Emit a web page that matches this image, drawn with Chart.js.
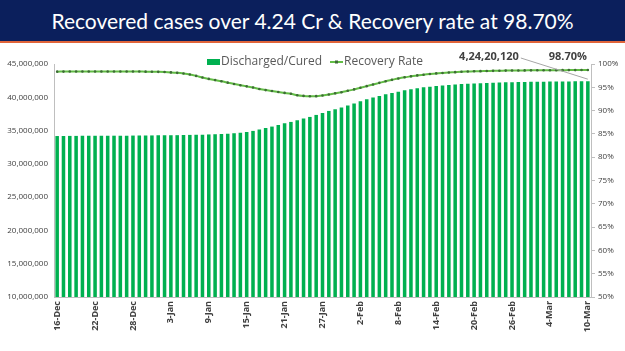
<!DOCTYPE html>
<html>
<head>
<meta charset="utf-8">
<script src="https://cdn.jsdelivr.net/npm/chart.js@4/dist/chart.umd.min.js"></script>
<style>
  html, body { margin: 0; padding: 0; background: #ffffff; }
  body { width: 625px; height: 351px; position: relative; overflow: hidden; }
  .banner {
    position: absolute; left: 0; top: 0; width: 625px; height: 41px;
    background: #0b1f5c; border-bottom: 2px solid #e0643a;
    color: #ffffff; font-family: Lato, "Open Sans", sans-serif; font-size: 21px;
    line-height: 41px; text-align: center;
  }
  .chart-box { position: absolute; left: 0; top: 44px; width: 625px; height: 307px; }
</style>
</head>
<body>
<div class="banner">Recovered cases over 4.24 Cr &amp; Recovery rate at 98.70%</div>
<div class="chart-box"><canvas id="recoveryChart"></canvas></div>
<script>
// ngày: 16-Dec .. 10-Mar (85 ngày)
const months = ["Dec", "Jan", "Feb", "Mar"];
const monthDays = [16, 31, 28, 10];
const monthStart = [16, 1, 1, 1];

// số ca khỏi bệnh cộng dồn (triệu)
const dischargedMillions = [
  34.18, 34.19, 34.20, 34.20, 34.21, 34.21, 34.22, 34.22, 34.23, 34.23,
  34.24, 34.24, 34.25, 34.25, 34.26, 34.27, 34.28, 34.29, 34.30, 34.31,
  34.33, 34.35, 34.37, 34.39, 34.42, 34.45, 34.49, 34.54, 34.60, 34.68,
  34.78, 34.95, 35.15, 35.40, 35.60, 35.85, 36.10, 36.30, 36.55, 36.80,
  37.05, 37.35, 37.65, 37.95, 38.20, 38.45, 38.75, 39.05, 39.40, 39.70,
  39.95, 40.20, 40.45, 40.65, 40.85, 41.05, 41.20, 41.35, 41.50, 41.60,
  41.70, 41.78, 41.85, 41.92, 41.98, 42.03, 42.07, 42.11, 42.15, 42.18,
  42.21, 42.24, 42.26, 42.28, 42.30, 42.32, 42.33, 42.35, 42.36, 42.37,
  42.38, 42.39, 42.40, 42.41, 42.42012
];

// tỉ lệ hồi phục (%)
const recoveryRate = [
  98.36, 98.37, 98.38, 98.38, 98.38, 98.39, 98.40, 98.40, 98.40, 98.40,
  98.40, 98.39, 98.38, 98.38, 98.36, 98.34, 98.32, 98.27, 98.20, 98.10,
  97.95, 97.75, 97.45, 97.10, 96.80, 96.55, 96.30, 96.00, 95.70, 95.45,
  95.20, 94.95, 94.65, 94.40, 94.20, 94.00, 93.80, 93.60, 93.30, 93.15,
  93.09, 93.10, 93.25, 93.45, 93.70, 93.95, 94.25, 94.55, 94.90, 95.25,
  95.60, 95.95, 96.30, 96.60, 96.90, 97.15, 97.35, 97.55, 97.70, 97.85,
  97.98, 98.08, 98.17, 98.25, 98.33, 98.38, 98.43, 98.47, 98.50, 98.53,
  98.56, 98.58, 98.60, 98.62, 98.63, 98.64, 98.65, 98.66, 98.67, 98.68,
  98.68, 98.69, 98.69, 98.70, 98.70
];

const leftTicks = [10000000, 15000000, 20000000, 25000000, 30000000, 35000000, 40000000, 45000000];
const rightTicks = [50, 55, 60, 65, 70, 75, 80, 85, 90, 95, 100];
const lastDischargedLabel = "4,24,20,120";
const lastRateLabel = "98.70%";

const BAR_GREEN = "#00b050";
const LINE_GREEN = "#62bd45";
const TEXT_GREY = "#404040";

/**
 * Tạo nhãn ngày dạng "16-Dec".
 */
function buildDateLabels() {
  const labels = [];
  months.forEach((m, i) => {
    for (let d = 0; d < monthDays[i]; d++) {
      labels.push(`${monthStart[i] + d}-${m}`);
    }
  });
  return labels;
}

const dateLabels = buildDateLabels();
const dischargedValues = dischargedMillions.map((v) => Math.round(v * 1000000));

/**
 * Plugin vẽ chú thích và nhãn giá trị cuối cùng.
 */
const overlayPlugin = {
  id: "overlay",
  afterDatasetsDraw(chart) {
    const ctx = chart.ctx;
    const area = chart.chartArea;
    const last = dischargedValues.length - 1;
    const barMeta = chart.getDatasetMeta(0).data[last];
    const yTop = chart.scales.y.getPixelForValue(dischargedValues[last]);
    const xLast = barMeta.x;

    ctx.save();
    // legend
    const legendY = area.top - 2;
    ctx.font = "12px 'Open Sans', sans-serif";
    ctx.textBaseline = "middle";
    ctx.fillStyle = BAR_GREEN;
    ctx.fillRect(207, legendY - 3, 13, 6);
    ctx.fillStyle = "#595959";
    ctx.fillText("Discharged/Cured", 221, legendY);

    ctx.strokeStyle = LINE_GREEN;
    ctx.lineWidth = 2;
    ctx.beginPath();
    ctx.moveTo(330, legendY);
    ctx.lineTo(343, legendY);
    ctx.stroke();
    ctx.fillStyle = "#3d6b35";
    ctx.fillRect(335, legendY - 1.5, 3, 3);
    ctx.fillStyle = "#595959";
    ctx.fillText("Recovery Rate", 344, legendY);

    // nhãn giá trị cuối
    ctx.font = "bold 11px 'Open Sans', sans-serif";
    ctx.fillStyle = TEXT_GREY;
    ctx.textAlign = "right";
    ctx.fillText(lastDischargedLabel, xLast - 69, area.top - 7);
    ctx.textAlign = "center";
    ctx.fillText(lastRateLabel, xLast - 20, area.top - 7);

    ctx.strokeStyle = "#a6a6a6";
    ctx.lineWidth = 1;
    ctx.beginPath();
    ctx.moveTo(xLast - 67, area.top - 6);
    ctx.lineTo(xLast, yTop - 2);
    ctx.stroke();
    ctx.restore();
  },
};

function renderRecoveryChart() {
  const ctx = document.getElementById("recoveryChart").getContext("2d");

  new Chart(ctx, {
    data: {
      labels: dateLabels,
      datasets: [
        {
          type: "bar",
          label: "Discharged/Cured",
          data: dischargedValues,
          backgroundColor: BAR_GREEN,
          yAxisID: "y",
          categoryPercentage: 1.0,
          barPercentage: 0.56,
          order: 2,
        },
        {
          type: "line",
          label: "Recovery Rate",
          data: recoveryRate,
          borderColor: LINE_GREEN,
          borderWidth: 2,
          pointRadius: 1.3,
          pointBackgroundColor: "#3d6b35",
          pointBorderWidth: 0,
          tension: 0.3,
          yAxisID: "y1",
          order: 1,
        },
      ],
    },
    options: {
      responsive: false,
      animation: false,
      layout: { padding: { top: 20, left: 0, right: 0, bottom: 0 } },
      plugins: {
        legend: { display: false },
        tooltip: { enabled: false },
      },
      scales: {
        x: {
          grid: { display: false, drawTicks: false },
          border: { color: "#bfbfbf" },
          ticks: {
            autoSkip: false,
            maxRotation: 90,
            minRotation: 90,
            padding: 4,
            color: TEXT_GREY,
            font: { family: "'Liberation Sans Narrow', 'Open Sans', sans-serif", size: 9, weight: "bold" },
            callback: (val, i) => (i % 6 === 0 ? dateLabels[i] : ""),
          },
          afterFit: (scale) => { scale.height = 54; },
        },
        y: {
          position: "left",
          min: leftTicks[0],
          max: leftTicks[leftTicks.length - 1],
          grid: { display: false, drawTicks: false },
          border: { color: "#bfbfbf" },
          afterBuildTicks: (scale) => { scale.ticks = leftTicks.map((v) => ({ value: v })); },
          ticks: {
            padding: 6,
            color: TEXT_GREY,
            font: { family: "'Open Sans', sans-serif", size: 8 },
            callback: (v) => Number(v).toLocaleString("en-US"),
          },
          afterFit: (scale) => { scale.width = 54; },
        },
        y1: {
          position: "right",
          min: 50,
          max: 100,
          grid: { drawOnChartArea: false, drawTicks: true, tickLength: 4, color: "#bfbfbf" },
          border: { color: "#bfbfbf" },
          afterBuildTicks: (scale) => { scale.ticks = rightTicks.map((v) => ({ value: v })); },
          ticks: {
            padding: 3,
            color: TEXT_GREY,
            font: { family: "'Open Sans', sans-serif", size: 8 },
            callback: (v) => v + "%",
          },
          afterFit: (scale) => { scale.width = 34; },
        },
      },
    },
    plugins: [overlayPlugin],
  });
}

const canvasEl = document.getElementById("recoveryChart");
canvasEl.width = 625;
canvasEl.height = 307;
renderRecoveryChart();
</script>
</body>
</html>
